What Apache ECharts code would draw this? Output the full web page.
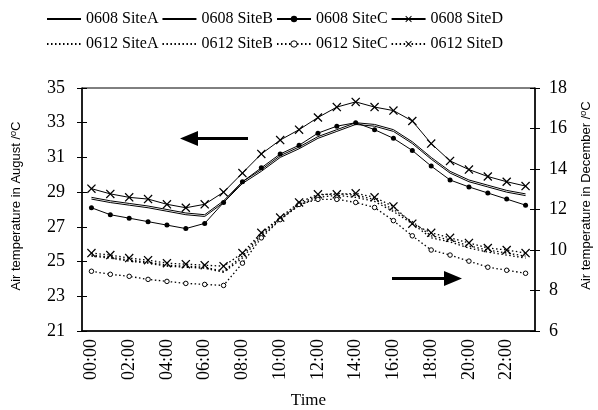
<!DOCTYPE html>
<html>
<head>
<meta charset="utf-8">
<script src="https://cdn.jsdelivr.net/npm/echarts@6/dist/echarts.min.js"></script>
<style>
  body { margin: 0; background: #fff; }
  #main { width: 598px; height: 410px; }
</style>
</head>
<body>
<div id="main"></div>
<script>
// 时间 (24 小时)
var hours = ['00:00','01:00','02:00','03:00','04:00','05:00','06:00','07:00','08:00','09:00','10:00','11:00',
             '12:00','13:00','14:00','15:00','16:00','17:00','18:00','19:00','20:00','21:00','22:00','23:00'];

// August (left axis)
var aug_siteA = [28.7, 28.5, 28.35, 28.2, 28.0, 27.8, 27.7, 28.5, 29.6, 30.3, 31.1, 31.6, 32.2, 32.6, 33.0, 32.9, 32.6, 31.9, 31.0, 30.2, 29.7, 29.4, 29.1, 28.9];
var aug_siteB = [28.6, 28.4, 28.25, 28.1, 27.9, 27.7, 27.6, 28.4, 29.5, 30.2, 31.0, 31.5, 32.1, 32.5, 32.9, 32.8, 32.5, 31.8, 30.9, 30.1, 29.6, 29.3, 29.0, 28.8];
var aug_siteC = [28.1, 27.7, 27.5, 27.3, 27.1, 26.9, 27.2, 28.4, 29.6, 30.4, 31.2, 31.7, 32.4, 32.8, 33.0, 32.6, 32.1, 31.4, 30.5, 29.7, 29.3, 28.95, 28.6, 28.25];
var aug_siteD = [29.2, 28.9, 28.7, 28.6, 28.3, 28.1, 28.3, 29.0, 30.1, 31.2, 32.0, 32.6, 33.3, 33.9, 34.2, 33.9, 33.7, 33.1, 31.8, 30.8, 30.3, 29.9, 29.6, 29.35];

// December (right axis)
var dec_siteA = [9.75, 9.65, 9.5, 9.4, 9.25, 9.2, 9.15, 8.95, 9.7, 10.8, 11.55, 12.25, 12.7, 12.8, 12.7, 12.5, 12.0, 11.4, 10.7, 10.5, 10.2, 10.0, 9.85, 9.7];
var dec_siteB = [9.7, 9.6, 9.45, 9.35, 9.2, 9.15, 9.1, 8.9, 9.6, 10.7, 11.5, 12.2, 12.6, 12.7, 12.6, 12.4, 11.9, 11.3, 10.6, 10.4, 10.1, 9.9, 9.75, 9.6];
var dec_siteC = [8.95, 8.8, 8.7, 8.55, 8.45, 8.35, 8.3, 8.25, 9.35, 10.6, 11.5, 12.25, 12.5, 12.5, 12.35, 12.1, 11.45, 10.7, 10.0, 9.75, 9.45, 9.15, 9.0, 8.85];
var dec_siteD = [9.85, 9.75, 9.6, 9.5, 9.35, 9.3, 9.25, 9.2, 9.85, 10.85, 11.6, 12.35, 12.75, 12.75, 12.8, 12.6, 12.15, 11.3, 10.85, 10.6, 10.35, 10.1, 10.0, 9.85];

var serif = 'Liberation Serif';
var crossMark = 'path://M0,1L1,0L5,4L9,0L10,1L6,5L10,9L9,10L5,6L1,10L0,9L4,5Z';
var dots = [1.5, 2.5];

// kind: 'plain' 无标记, 'dot' 实心圆, 'ring' 空心圆, 'cross' 叉号
function line(name, data, axis, kind, dash) {
  var s = {
    name: name,
    type: 'line',
    yAxisIndex: axis,
    data: data,
    symbol: kind === 'cross' ? crossMark : 'circle',
    symbolSize: kind === 'cross' ? 9 : (kind === 'ring' ? 4.5 : 5),
    showSymbol: kind !== 'plain',
    lineStyle: { color: '#000', width: dash ? 1.3 : 1, type: dash ? dash : 'solid' },
    itemStyle: { color: '#000', borderWidth: 0 }
  };
  if (kind === 'plain') s.itemStyle = { color: 'rgba(0,0,0,0)', borderWidth: 0 };
  if (kind === 'ring') s.itemStyle = { color: '#fff', borderColor: '#000', borderWidth: 1 };
  return s;
}

var legendText = { fontFamily: serif, fontSize: 16, color: '#000' };

var myChart = echarts.init(document.getElementById('main'));
myChart.setOption({
  animation: false,
  backgroundColor: '#fff',
  legend: [
    {
      left: 41, top: 6, itemWidth: 34, itemHeight: 8, itemGap: 3,
      textStyle: legendText,
      data: ['0608 SiteA', '0608 SiteB', '0608 SiteC', '0608 SiteD']
    },
    {
      left: 41, top: 31, itemWidth: 34, itemHeight: 8, itemGap: 3,
      textStyle: legendText,
      data: ['0612 SiteA', '0612 SiteB',
             { name: '0612 SiteC', itemStyle: { color: '#fff', borderColor: '#000', borderWidth: 1 } },
             '0612 SiteD']
    }
  ],
  grid: { left: 82, right: 63, top: 88, bottom: 79, show: true, borderColor: '#000', borderWidth: 1, containLabel: false, outerBoundsMode: 'none' },
  xAxis: [
    {
      type: 'category', data: hours, boundaryGap: true,
      name: 'Time', nameLocation: 'middle', nameGap: 61,
      nameTextStyle: { fontFamily: serif, fontSize: 17, color: '#000' },
      axisLine: { lineStyle: { color: '#000', width: 1.5 } },
      axisTick: { interval: 0, length: 4, lineStyle: { color: '#000' } },
      axisLabel: { interval: 1, rotate: 90, margin: 8, fontFamily: serif, fontSize: 18, color: '#000' },
      splitLine: { show: false }
    },
    {
      // 内侧刻度 (刻度穿过轴线)
      type: 'category', data: hours, boundaryGap: true, position: 'bottom',
      axisLine: { show: false },
      axisTick: { interval: 0, inside: true, length: 5, lineStyle: { color: '#000' } },
      axisLabel: { show: false },
      splitLine: { show: false }
    }
  ],
  yAxis: [
    {
      type: 'value', position: 'left', min: 21, max: 35, interval: 2,
      name: '{t|Air temperature in August /}{s|o}{t|C}', nameLocation: 'middle', nameRotate: 90, nameGap: 58,
      nameTextStyle: {
        padding: [0, 0, 0, 7],
        rich: {
          t: { fontFamily: 'Liberation Sans', fontSize: 13, color: '#000' },
          s: { fontFamily: 'Liberation Sans', fontSize: 9, fontStyle: 'italic', color: '#000', verticalAlign: 'top', padding: [0, 0, 6, 0] }
        }
      },
      axisLine: { show: true, lineStyle: { color: '#000', width: 1.5 } },
      axisTick: { show: true, length: 5, lineStyle: { color: '#000' } },
      axisLabel: { margin: 17, fontFamily: serif, fontSize: 18, color: '#000' },
      splitLine: { show: false }
    },
    {
      type: 'value', position: 'right', min: 6, max: 18, interval: 2,
      name: '{t|Air temperature in December /}{s|o}{t|C}', nameLocation: 'middle', nameRotate: 90, nameGap: 44,
      nameTextStyle: {
        padding: [0, 0, 0, 28],
        rich: {
          t: { fontFamily: 'Liberation Sans', fontSize: 13, color: '#000' },
          s: { fontFamily: 'Liberation Sans', fontSize: 9, fontStyle: 'italic', color: '#000', verticalAlign: 'top', padding: [0, 0, 6, 0] }
        }
      },
      axisLine: { show: true, lineStyle: { color: '#000', width: 1.5 } },
      axisTick: { show: true, length: 5, lineStyle: { color: '#000' } },
      axisLabel: { margin: 14, fontFamily: serif, fontSize: 18, color: '#000' },
      splitLine: { show: false }
    },
    {
      type: 'value', position: 'left', min: 21, max: 35, interval: 2,
      axisLine: { show: false }, axisLabel: { show: false }, splitLine: { show: false },
      axisTick: { show: true, inside: true, length: 5, lineStyle: { color: '#000' } }
    },
    {
      type: 'value', position: 'right', min: 6, max: 18, interval: 2,
      axisLine: { show: false }, axisLabel: { show: false }, splitLine: { show: false },
      axisTick: { show: true, inside: true, length: 5, lineStyle: { color: '#000' } }
    }
  ],
  series: [
    line('0608 SiteA', aug_siteA, 0, 'plain', null),
    line('0608 SiteB', aug_siteB, 0, 'plain', null),
    line('0608 SiteC', aug_siteC, 0, 'dot', null),
    line('0608 SiteD', aug_siteD, 0, 'cross', null),
    line('0612 SiteA', dec_siteA, 1, 'plain', dots),
    line('0612 SiteB', dec_siteB, 1, 'plain', dots),
    line('0612 SiteC', dec_siteC, 1, 'ring', dots),
    line('0612 SiteD', dec_siteD, 1, 'cross', dots)
  ],
  // 箭头标注
  graphic: [
    { type: 'polygon', shape: { points: [[180,138.5],[198,131],[198,137],[248,137],[248,140],[198,140],[198,146]] }, style: { fill: '#000' } },
    { type: 'polygon', shape: { points: [[462,278.5],[444,271],[444,277],[392,277],[392,280],[444,280],[444,286]] }, style: { fill: '#000' } }
  ]
});
</script>
</body>
</html>
